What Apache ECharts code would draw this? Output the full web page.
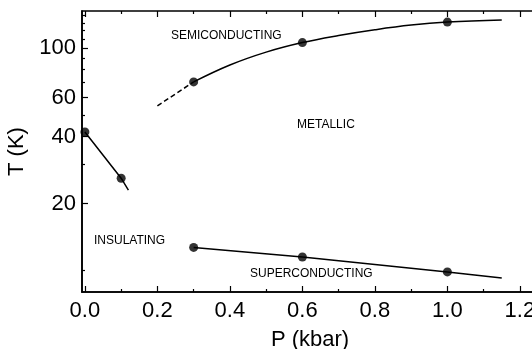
<!DOCTYPE html>
<html>
<head>
<meta charset="utf-8">
<script src="https://cdn.jsdelivr.net/npm/echarts@6/dist/echarts.min.js"></script>
<style>
    html, body { margin: 0; padding: 0; background: #fff; }
    #chart { width: 532px; height: 349px; }
</style>
</head>
<body>
<div id="chart"></div>
<script>
// axis ticks
var xMajor = [0, 0.2, 0.4, 0.6, 0.8, 1.0, 1.2];
var xMinor = [0.1, 0.3, 0.5, 0.7, 0.9, 1.1];
var yMajor = [20, 40, 60, 100];
var yMinor = [10, 30, 50, 70, 80, 90, 110, 120, 130, 140];

// insulating / metallic boundary
var insP = [0.0, 0.1, 0.12];
var insT = [42, 26, 23];
var insDotP = [0.0, 0.1];
var insDotT = [42, 26];

// semiconducting / metallic boundary
var semiDashP = [0.2, 0.3];
var semiDashT = [55, 70.5];
var semiP = [0.3, 0.4, 0.5, 0.6, 0.7, 0.8, 0.9, 1.0, 1.15];
var semiT = [70.5, 84, 96, 106, 114, 121, 127, 131, 134];
var semiDotP = [0.3, 0.6, 1.0];
var semiDotT = [70.5, 106, 131];

// superconducting boundary
var supP = [0.3, 0.6, 1.0, 1.15];
var supT = [12.7, 11.5, 9.85, 9.25];
var supDotP = [0.3, 0.6, 1.0];
var supDotT = [12.7, 11.5, 9.85];

function zip(a, b) {
    return a.map(function (v, i) { return [v, b[i]]; });
}

var font = "'Liberation Sans', Arial, sans-serif";
var xMin = -0.008, xMax = 1.25;
var yMin = 8, yMax = 147;

function xAxisOf(pos, ticks, len, main) {
    return {
        type: 'value',
        position: pos,
        min: xMin,
        max: xMax,
        axisLine: { show: main, onZero: false, lineStyle: { color: '#000', width: 1.6 } },
        axisTick: { inside: true, length: len, customValues: ticks, lineStyle: { color: '#000', width: 1.2 } },
        axisLabel: main && pos == 'bottom' ? {
            customValues: ticks,
            formatter: function (v) { return v.toFixed(1); },
            fontSize: 22, color: '#000', fontFamily: font, margin: 8
        } : { show: false },
        splitLine: { show: false },
        name: main && pos == 'bottom' ? 'P (kbar)' : '',
        nameLocation: 'middle',
        nameGap: 37,
        nameTextStyle: { fontSize: 22, color: '#000', fontFamily: font }
    };
}

function yAxisOf(ticks, len, main) {
    return {
        type: 'log',
        logBase: 10,
        min: yMin,
        max: yMax,
        position: 'left',
        axisLine: { show: main, onZero: false, lineStyle: { color: '#000', width: 1.6 } },
        axisTick: { inside: true, length: len, customValues: ticks, lineStyle: { color: '#000', width: 1.2 } },
        axisLabel: main ? {
            customValues: ticks,
            fontSize: 22, color: '#000', fontFamily: font, margin: 6
        } : { show: false },
        splitLine: { show: false },
        name: main ? 'T (K)' : '',
        nameLocation: 'middle',
        nameGap: 50,
        nameRotate: 90,
        nameTextStyle: { fontSize: 22, color: '#000', fontFamily: font }
    };
}

var line = { color: '#000', width: 1.5 };
var dot = { color: '#000' };

var myChart = echarts.init(document.getElementById('chart'));
var option = {
    animation: false,
    backgroundColor: '#fff',
    textStyle: { fontFamily: font },
    grid: {
        left: 82, right: -6, top: 11, bottom: 57,
        containLabel: false,
        outerBoundsMode: 'none',
        show: true, borderColor: '#000', borderWidth: 1.6
    },
    xAxis: [
        xAxisOf('bottom', xMajor, 6, true),
        xAxisOf('bottom', xMinor, 3, false),
        xAxisOf('top', xMajor, 6, false),
        xAxisOf('top', xMinor, 3, false)
    ],
    yAxis: [
        yAxisOf(yMajor, 6, true),
        yAxisOf(yMinor, 3, false)
    ],
    series: [
        { type: 'line', data: zip(insP, insT), showSymbol: false, lineStyle: line },
        { type: 'line', data: zip(semiDashP, semiDashT), showSymbol: false, lineStyle: { color: '#000', width: 1.5, type: [5, 3] } },
        { type: 'line', data: zip(semiP, semiT), smooth: 0.4, showSymbol: false, lineStyle: line },
        { type: 'line', data: zip(supP, supT), showSymbol: false, lineStyle: line },
        { type: 'scatter', data: zip(insDotP, insDotT), symbolSize: 9, itemStyle: dot },
        { type: 'scatter', data: zip(semiDotP, semiDotT), symbolSize: 9, itemStyle: dot },
        { type: 'scatter', data: zip(supDotP, supDotT), symbolSize: 9, itemStyle: dot }
    ],
    graphic: [
        { type: 'text', left: 171, top: 30, style: { text: 'SEMICONDUCTING', fontSize: 12, fill: '#000', fontFamily: font } },
        { type: 'text', left: 297, top: 119, style: { text: 'METALLIC', fontSize: 12, fill: '#000', fontFamily: font } },
        { type: 'text', left: 94, top: 235, style: { text: 'INSULATING', fontSize: 12, fill: '#000', fontFamily: font } },
        { type: 'text', left: 250, top: 268, style: { text: 'SUPERCONDUCTING', fontSize: 12, fill: '#000', fontFamily: font } }
    ]
};
myChart.setOption(option);
</script>
</body>
</html>
